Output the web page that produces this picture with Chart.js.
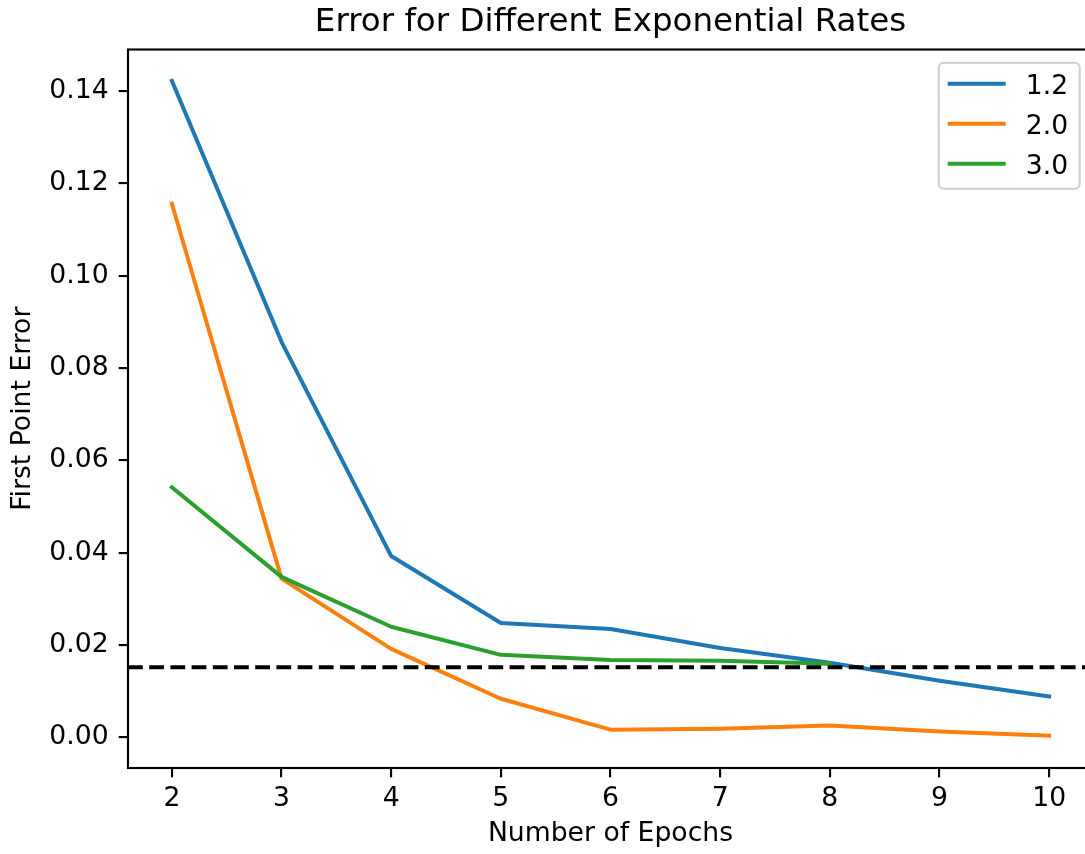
<!DOCTYPE html>
<html>
<head>
<meta charset="utf-8">
<script src="https://cdn.jsdelivr.net/npm/chart.js@4.4.1/dist/chart.umd.min.js"></script>
<style>
  html, body { margin: 0; padding: 0; background: #fff; overflow: hidden; }
  canvas { display: block; }
</style>
</head>
<body>
<canvas id="myChart" width="1100" height="854"></canvas>
<script>
// Epochs on the x axis
const epochs = [2, 3, 4, 5, 6, 7, 8, 9, 10];

// First point error for each exponential rate
const rateLabels = ['1.2', '2.0', '3.0'];
const error12 = [0.1422, 0.0857, 0.0393, 0.0248, 0.0235, 0.0194, 0.0162, 0.0123, 0.0089];
const error20 = [0.1156, 0.0344, 0.0192, 0.0084, 0.0017, 0.0019, 0.0026, 0.0013, 0.0004];
const error30 = [0.0542, 0.0348, 0.0240, 0.0179, 0.0168, 0.0166, 0.0160]; // stops at 8 epochs

// Reference error level (dashed)
const threshold = 0.0152;

// Axis ticks and limits
const yTicks = [0, 0.02, 0.04, 0.06, 0.08, 0.10, 0.12, 0.14];
const xLimits = [1.6, 10.4];
const yLimits = [-0.0066, 0.149];

const colors = ['#1f77b4', '#ff7f0e', '#2ca02c'];
const FONT = '"DejaVu Sans", sans-serif';

const toPoints = ys => ys.map((y, i) => ({ x: epochs[i], y: y }));

function lineSet(label, values, color, order) {
    return {
        label: label,
        data: toPoints(values),
        borderColor: color,
        backgroundColor: color,
        borderWidth: 4,
        borderCapStyle: 'square',
        borderJoinStyle: 'round',
        pointRadius: 0,
        tension: 0,
        order: order
    };
}

// Box around the plot plus a matplotlib-style legend in the upper right
const frameAndLegend = {
    id: 'frameAndLegend',
    afterDatasetsDraw(chart) {
        const { ctx, chartArea: a } = chart;
        ctx.save();
        ctx.strokeStyle = '#000';
        ctx.lineWidth = 2.13;
        ctx.strokeRect(a.left, a.top, a.right - a.left, a.bottom - a.top);
        ctx.restore();
    },
    afterDraw(chart) {
        const { ctx, chartArea: a } = chart;
        const w = 141, h = 126;
        const x0 = a.right - 13.3 - w;
        const y0 = a.top + 13.3;
        ctx.save();
        ctx.beginPath();
        ctx.roundRect(x0, y0, w, h, 5);
        ctx.fillStyle = 'rgba(255,255,255,0.8)';
        ctx.fill();
        ctx.strokeStyle = '#cccccc';
        ctx.lineWidth = 2;
        ctx.stroke();

        ctx.font = '26.67px ' + FONT;
        ctx.textBaseline = 'alphabetic';
        ctx.textAlign = 'left';
        rateLabels.forEach((lab, i) => {
            const yy = y0 + 21 + i * 40;
            ctx.beginPath();
            ctx.moveTo(x0 + 11, yy);
            ctx.lineTo(x0 + 65, yy);
            ctx.strokeStyle = colors[i];
            ctx.lineWidth = 4;
            ctx.lineCap = 'square';
            ctx.stroke();
            ctx.fillStyle = '#000';
            ctx.fillText(lab, x0 + 87, yy + 9.7);
        });
        ctx.restore();
    }
};

const data = {
    datasets: [
        lineSet(rateLabels[0], error12, colors[0], 3),
        lineSet(rateLabels[1], error20, colors[1], 2),
        lineSet(rateLabels[2], error30, colors[2], 1),
        {
            label: 'threshold',
            data: [{ x: xLimits[0], y: threshold }, { x: xLimits[1], y: threshold }],
            borderColor: '#000',
            borderWidth: 4,
            borderDash: [14.8, 6.4],
            pointRadius: 0,
            order: 0
        }
    ]
};

const axisGrid = {
    drawOnChartArea: false,
    drawTicks: true,
    tickLength: 9.33,
    tickWidth: 2.13,
    lineWidth: 2.13,
    tickColor: '#000'
};

const config = {
    type: 'line',
    data: data,
    options: {
        responsive: false,
        animation: false,
        layout: { padding: { left: 0, right: 7, top: 0, bottom: 0 } },
        plugins: {
            legend: { display: false },
            tooltip: { enabled: false },
            title: {
                display: true,
                text: 'Error for Different Exponential Rates',
                color: '#000',
                fullSize: false,
                font: { family: FONT, size: 32.5, weight: 'normal', lineHeight: 1.2 },
                padding: { top: 3, bottom: 7.5 }
            }
        },
        scales: {
            x: {
                type: 'linear',
                min: xLimits[0],
                max: xLimits[1],
                afterBuildTicks: scale => { scale.ticks = epochs.map(v => ({ value: v })); },
                afterFit: scale => { scale.height = 86; },
                ticks: {
                    color: '#000',
                    padding: 6,
                    maxRotation: 0,
                    autoSkip: false,
                    font: { family: FONT, size: 26.67 },
                    callback: v => String(v)
                },
                grid: axisGrid,
                border: { display: false },
                title: {
                    display: true,
                    text: 'Number of Epochs',
                    color: '#000',
                    font: { family: FONT, size: 26.67, lineHeight: 1.2 },
                    padding: { top: 0, bottom: 4 }
                }
            },
            y: {
                min: yLimits[0],
                max: yLimits[1],
                afterBuildTicks: scale => { scale.ticks = yTicks.map(v => ({ value: v })); },
                afterFit: scale => { scale.width = 128; },
                ticks: {
                    color: '#000',
                    padding: 10,
                    autoSkip: false,
                    font: { family: FONT, size: 26.67 },
                    callback: v => v.toFixed(2)
                },
                grid: axisGrid,
                border: { display: false },
                title: {
                    display: true,
                    text: 'First Point Error',
                    color: '#000',
                    font: { family: FONT, size: 26.67, lineHeight: 1.2 },
                    padding: { top: 7, bottom: 0 }
                }
            }
        }
    },
    plugins: [frameAndLegend]
};

const myChart = new Chart(document.getElementById('myChart'), config);
</script>
</body>
</html>
